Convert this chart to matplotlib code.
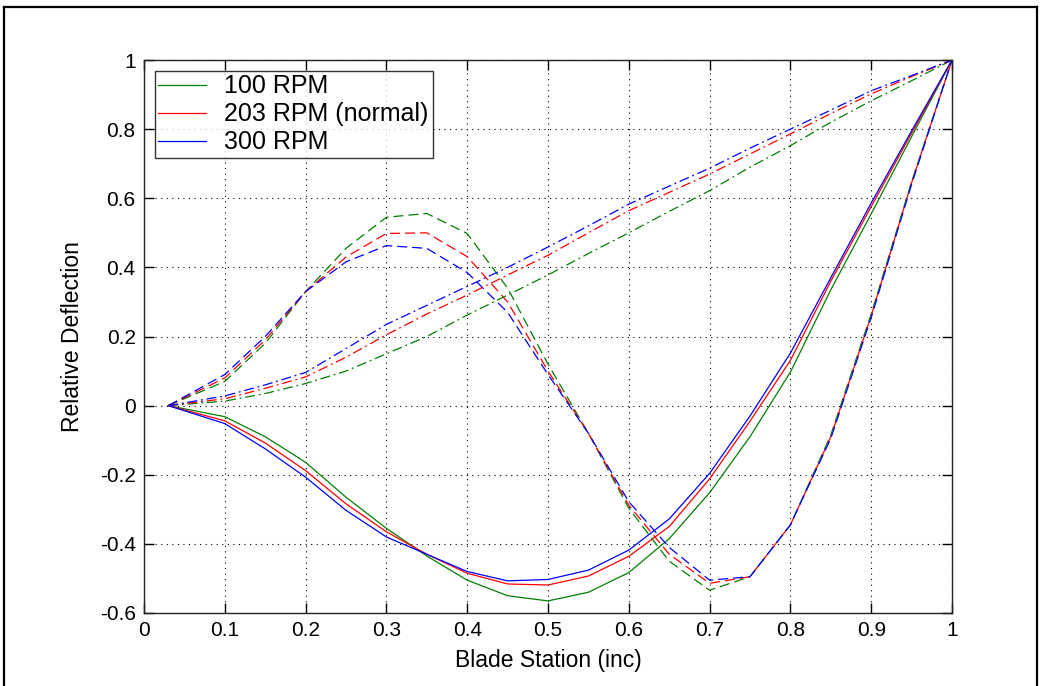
import matplotlib
matplotlib.use("Agg")
import matplotlib.pyplot as plt
from matplotlib.lines import Line2D

plt.rcParams['font.family'] = ['Liberation Sans', 'DejaVu Sans']

# Blade stations
station = [0.03, 0.1, 0.15, 0.2, 0.25, 0.3, 0.35, 0.4, 0.45, 0.5,
           0.55, 0.6, 0.65, 0.7, 0.75, 0.8, 0.85, 0.9, 0.95, 1.0]

# Mode A (solid)
solid_100 = [0, -0.032, -0.09, -0.164, -0.265, -0.355, -0.435, -0.505, -0.55, -0.565,
             -0.54, -0.483, -0.385, -0.252, -0.09, 0.097, 0.335, 0.555, 0.778, 1.0]
solid_203 = [0, -0.044, -0.108, -0.188, -0.284, -0.365, -0.43, -0.485, -0.516, -0.519,
             -0.493, -0.436, -0.35, -0.212, -0.045, 0.131, 0.36, 0.576, 0.788, 1.0]
solid_300 = [0, -0.052, -0.125, -0.207, -0.303, -0.38, -0.43, -0.48, -0.507, -0.503,
             -0.476, -0.418, -0.328, -0.196, -0.03, 0.152, 0.37, 0.586, 0.795, 1.0]

# Mode B (dashed)
dash_100 = [0, 0.07, 0.18, 0.33, 0.455, 0.545, 0.556, 0.498, 0.34, 0.12,
            -0.08, -0.297, -0.45, -0.534, -0.495, -0.345, -0.085, 0.265, 0.648, 1.0]
dash_203 = [0, 0.08, 0.19, 0.33, 0.43, 0.498, 0.50, 0.431, 0.30, 0.10,
            -0.08, -0.288, -0.43, -0.514, -0.495, -0.345, -0.09, 0.26, 0.645, 1.0]
dash_300 = [0, 0.09, 0.20, 0.33, 0.416, 0.463, 0.455, 0.385, 0.27, 0.09,
            -0.08, -0.278, -0.41, -0.505, -0.495, -0.345, -0.095, 0.255, 0.64, 1.0]

# Mode C (dash-dot)
dd_100 = [0, 0.013, 0.035, 0.064, 0.10, 0.15, 0.20, 0.262, 0.32, 0.378,
          0.44, 0.50, 0.562, 0.622, 0.69, 0.752, 0.82, 0.882, 0.94, 1.0]
dd_203 = [0, 0.02, 0.05, 0.083, 0.14, 0.205, 0.265, 0.32, 0.378, 0.435,
          0.50, 0.564, 0.617, 0.67, 0.728, 0.786, 0.845, 0.902, 0.952, 1.0]
dd_300 = [0, 0.028, 0.06, 0.096, 0.165, 0.235, 0.29, 0.345, 0.40, 0.459,
          0.52, 0.583, 0.635, 0.687, 0.745, 0.80, 0.855, 0.911, 0.955, 1.0]

labels = ['100 RPM', '203 RPM (normal)', '300 RPM']
colors = ['#008000', '#ff0000', '#0000ff']

x_ticks = [0, 0.1, 0.2, 0.3, 0.4, 0.5, 0.6, 0.7, 0.8, 0.9, 1]
x_ticklabels = ['0', '0.1', '0.2', '0.3', '0.4', '0.5', '0.6', '0.7', '0.8', '0.9', '1']
y_ticks = [-0.6, -0.4, -0.2, 0, 0.2, 0.4, 0.6, 0.8, 1]
y_ticklabels = ['-0.6', '-0.4', '-0.2', '0', '0.2', '0.4', '0.6', '0.8', '1']

fig = plt.figure(figsize=(10.41, 6.86), dpi=100)
ax = fig.add_axes([144/1041, 1 - 613/686, (952 - 144)/1041, (613 - 60)/686])

lw = 0.9
solids = [solid_100, solid_203, solid_300]
dashes = [dash_100, dash_203, dash_300]
dds = [dd_100, dd_203, dd_300]
for s, c, lab in zip(solids, colors, labels):
    ax.plot(station, s, color=c, lw=lw, label=lab)
for d, c in zip(dashes, colors):
    ax.plot(station, d, color=c, lw=lw, linestyle=(0, (8, 4)))
for d, c in zip(dds, colors):
    ax.plot(station, d, color=c, lw=lw, linestyle=(0, (8, 3, 1.5, 3)))

ax.set_xlim(0, 1)
ax.set_ylim(-0.6, 1)
ax.set_xticks(x_ticks)
ax.set_xticklabels(x_ticklabels)
ax.set_yticks(y_ticks)
ax.set_yticklabels(y_ticklabels)
ax.tick_params(direction='in', length=7, width=1, top=True, right=True,
               labelsize=15, pad=6, colors='black')
ax.grid(True, color='black', linestyle=(0, (1, 4)), linewidth=0.8)
for sp in ax.spines.values():
    sp.set_linewidth(1)
    sp.set_color('#222222')

ax.set_xlabel('Blade Station (inc)', fontsize=16.5, labelpad=6)
ax.set_ylabel('Relative Deflection', fontsize=16.5, labelpad=11)

leg = ax.legend(loc='upper left', fontsize=18, frameon=True, fancybox=False,
                handlelength=1.9, handletextpad=0.75, labelspacing=0.16,
                borderpad=0.15, borderaxespad=0.42)
leg.get_frame().set_edgecolor('black')
leg.get_frame().set_linewidth(1)

# figure border (left, top, right)
fig.add_artist(Line2D([4/1041, 4/1041], [0, 1 - 7/686], transform=fig.transFigure, color='black', lw=1.6))
fig.add_artist(Line2D([4/1041, 1037/1041], [1 - 7/686, 1 - 7/686], transform=fig.transFigure, color='black', lw=1.6))
fig.add_artist(Line2D([1037/1041, 1037/1041], [0, 1 - 7/686], transform=fig.transFigure, color='black', lw=1.6))

fig.savefig('out.png', dpi=100)
